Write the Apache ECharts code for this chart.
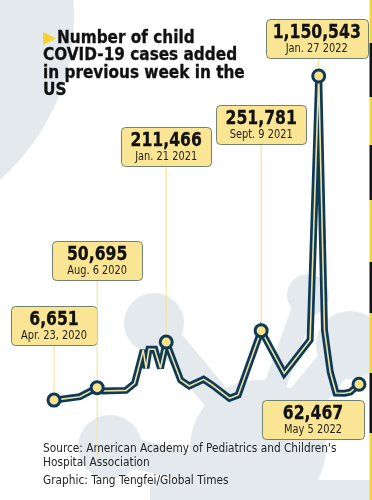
<!DOCTYPE html>
<html><head><meta charset="utf-8">
<script src="https://cdn.jsdelivr.net/npm/echarts@6/dist/echarts.min.js"></script>
<style>html,body{margin:0;padding:0;background:#fff}#c{width:372px;height:500px}</style>
</head><body><div id="c"></div>
<script>
// ---- data ----
const weekDates = ['2020-04-23','2020-06-25','2020-08-06','2020-08-20','2020-10-15','2020-11-05','2020-11-26','2020-12-03','2020-12-10','2020-12-24','2021-01-07','2021-01-21','2021-02-25','2021-03-18','2021-04-22','2021-05-13','2021-06-24','2021-07-15','2021-09-09','2021-11-04','2022-01-06','2022-01-27','2022-02-10','2022-02-24','2022-03-10','2022-03-31','2022-04-14','2022-05-05'];
const weeklyCases = [6651,18700,50695,38800,41000,66000,183500,119000,186000,186000,119000,211466,77600,56500,80100,60000,13100,24700,251781,101300,218800,1150543,254000,105900,31800,30700,35300,62467];
const highlightDates = ['2020-04-23','2020-08-06','2021-01-21','2021-09-09','2022-01-27','2022-05-05'];
const highlightValues = [6651,50695,211466,251781,1150543,62467];
const highlightLabels = ['Apr. 23, 2020','Aug. 6 2020','Jan. 21 2021','Sept. 9 2021','Jan. 27 2022','May 5 2022'];
const titleLines = ['Number of child','COVID-19 cases added','in previous week in the','US'];
const sourceLines = ["Source: American Academy of Pediatrics and Children's",'Hospital Association','Graphic: Tang Tengfei/Global Times'];

// ---- layout (not data) ----
const boxLayout = [
  {top:306, w:86, dx:0, below:false, tail:0},
  {top:241, w:90, dx:0, below:false, tail:72},
  {top:127, w:90, dx:0, below:false, tail:0},
  {top:105, w:90, dx:0, below:false, tail:0},
  {top:19,  w:102,dx:-2, below:false, tail:0},
  {top:400, w:102,dx:-46, below:true, tail:0}
];
const NAVY = '#0e3a58', INNER = '#efe2a0', MARK = '#f9e28a', BOXF = '#f9e593', BOXS = '#70826e', BG = '#e3e9ed', LEAD = '#f3e3a0';
const FONT = 'DejaVu Sans Condensed';

function ts(s){ const p = s.split('-').map(Number); return Date.UTC(p[0], p[1]-1, p[2]); }
const lineData = weekDates.map((d,i)=>[ts(d), weeklyCases[i]]);
const hiData = highlightDates.map((d,i)=>[ts(d), highlightValues[i]]);

const chart = echarts.init(document.getElementById('c'));
chart.setOption({
  animation:false,
  grid:{left:54, right:13, top:62, bottom:98},
  xAxis:{type:'time', min:ts(weekDates[0]), max:ts(weekDates[weekDates.length-1]), show:false},
  yAxis:{type:'value', min:0, max:1200000, show:false},
  series:[
    {type:'line', data:lineData, symbol:'none', z:3, silent:true,
     lineStyle:{color:NAVY, width:7, join:'miter', miterLimit:3}},
    {type:'line', data:lineData, symbol:'none', z:4, silent:true,
     lineStyle:{color:INNER, width:1.6, join:'miter', miterLimit:3}},
    {type:'scatter', data:hiData, symbolSize:12, z:5, silent:true,
     itemStyle:{color:MARK, borderColor:NAVY, borderWidth:3, opacity:1}}
  ]
});

const g = [];
// background blobs
const circ = (cx,cy,r)=>({type:'circle', z:0, silent:true, shape:{cx,cy,r}, style:{fill:BG}});
const arm = (x1,y1,x2,y2,w)=>({type:'line', z:0, silent:true, shape:{x1,y1,x2,y2}, style:{stroke:BG, lineWidth:w, lineCap:'round'}});
g.push(circ(-144,16,218));
g.push(circ(154,323,30), circ(308,295,21), circ(110,447,32), circ(258,448,68), circ(350,345,34));
g.push(arm(154,323,235,420,28), arm(308,295,270,400,22), arm(350,345,280,430,36), arm(110,447,200,470,30));
g.push({type:'rect', z:0, silent:true, shape:{x:150,y:480,width:222,height:20}, style:{fill:BG}});

// right stripe
const stripes = [[0,43,'#f3d43a'],[43,97,'#151515'],[97,145,'#f3d43a'],[145,200,'#151515'],[200,262,'#f3d43a'],[262,313,'#151515'],[313,373,'#f3d43a'],[373,433,'#151515'],[433,500,'#f3d43a']];
stripes.forEach(s=>g.push({type:'rect', z:1, silent:true, shape:{x:369.5,y:s[0],width:2.5,height:s[1]-s[0]}, style:{fill:s[2]}}));

// title
g.push({type:'text', z:1, x:43, y:38.5, silent:true, style:{text:'\u25B6', fill:'#f5d430', fontSize:17, fontFamily:'DejaVu Sans', verticalAlign:'middle'}});
titleLines.forEach((t,i)=>{
  g.push({type:'text', z:1, x:(i===0?57:43), y:38.5+i*17.3, silent:true, style:{
    text:t, fill:'#111', fontSize:17, fontWeight:'bold', fontFamily:FONT, verticalAlign:'middle',
    stroke:'#111', lineWidth:0.3}});
});

// source
[[sourceLines[0],449],[sourceLines[1],463],[sourceLines[2],481]].forEach(s=>{
  g.push({type:'text', z:1, silent:true, x:43, y:s[1], scaleX:0.98, style:{text:s[0], fill:'#262626', fontSize:12, fontFamily:FONT, verticalAlign:'middle', align:'left'}});
});

// boxes + leaders
hiData.forEach((d,i)=>{
  const p = chart.convertToPixel({gridIndex:0}, d);
  const L = boxLayout[i];
  const cx = p[0] + L.dx, h = 39;
  const x0 = Math.round(cx - L.w/2) + 0.5, y0 = L.top + 0.5;
  if (!L.below) {
    g.push({type:'line', z:1, silent:true, shape:{x1:p[0], y1:y0+h, x2:p[0], y2:p[1] + L.tail}, style:{stroke:LEAD, lineWidth:1.2}});
  }
  g.push({type:'rect', z:1, silent:true, shape:{x:x0, y:y0, width:L.w, height:h, r:4}, style:{fill:BOXF, stroke:BOXS, lineWidth:1}});
  g.push({type:'text', z:1, silent:true, x:cx, y:L.top+14, scaleX:0.87, style:{text:highlightValues[i].toLocaleString('en-US'), fill:'#111', fontSize:20, fontWeight:'bold', fontFamily:FONT, align:'center', verticalAlign:'middle', stroke:'#111', lineWidth:0.3}});
  g.push({type:'text', z:1, silent:true, x:cx, y:L.top+30.5, scaleX:0.95, style:{text:highlightLabels[i], fill:'#222', fontSize:11.5, fontFamily:FONT, align:'center', verticalAlign:'middle'}});
});
chart.setOption({graphic:{elements:g}});
</script></body></html>
